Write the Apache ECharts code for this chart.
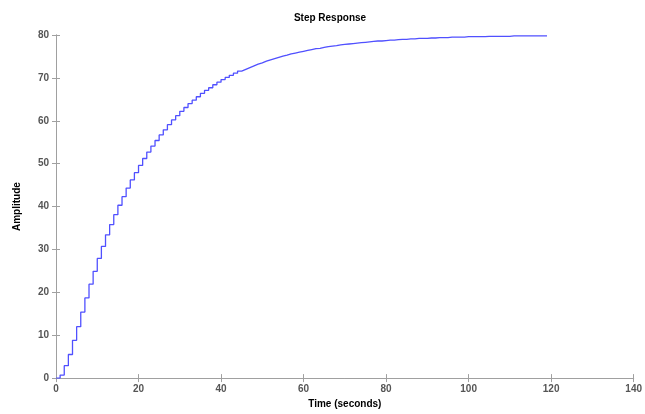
<!DOCTYPE html>
<html>
<head>
<meta charset="utf-8">
<script src="https://cdn.jsdelivr.net/npm/echarts@6/dist/echarts.min.js"></script>
<style>
  html, body { margin: 0; padding: 0; background: #fff; }
  #chart { width: 645px; height: 414px; }
</style>
</head>
<body>
<div id="chart"></div>
<script>
// sample time of the discrete step response (seconds)
const sampleTime = 1
const amplitude = [
  0, 0.7, 2.9, 5.5, 8.8, 12.0, 15.4, 18.7, 21.9, 24.9, 27.9, 30.7, 33.4,
  35.8, 38.1, 40.3, 42.3, 44.3, 46.2, 47.9, 49.6, 51.2, 52.7, 54.1, 55.4,
  56.7, 57.9, 59.1, 60.2, 61.2, 62.2, 63.1, 64.0, 64.8, 65.6, 66.4, 67.1,
  67.7, 68.4, 69.0, 69.6, 70.1, 70.6, 71.1, 71.6, 72.0, 72.4, 72.8, 73.2,
  73.5, 73.9, 74.2, 74.5, 74.8, 75.1, 75.3, 75.6, 75.8, 76.0, 76.2, 76.4,
  76.6, 76.8, 76.9, 77.1, 77.3, 77.4, 77.5, 77.7, 77.8, 77.9, 78.0, 78.1,
  78.2, 78.3, 78.4, 78.5, 78.6, 78.6, 78.7, 78.8, 78.8, 78.9, 79.0, 79.0,
  79.1, 79.1, 79.2, 79.2, 79.2, 79.3, 79.3, 79.4, 79.4, 79.4, 79.5, 79.5,
  79.5, 79.5, 79.6, 79.6, 79.6, 79.6, 79.6, 79.7, 79.7, 79.7, 79.7, 79.7,
  79.7, 79.8, 79.8, 79.8, 79.8, 79.8, 79.8, 79.8, 79.8, 79.8, 79.8
]
const xTicks = [0, 20, 40, 60, 80, 100, 120, 140]
const yTicks = [0, 10, 20, 30, 40, 50, 60, 70, 80]

const points = amplitude.map((v, i) => [i * sampleTime, v])

const chart = echarts.init(document.getElementById('chart'))

const axisGray = '#a0a0a0'
const labelStyle = {
  color: '#555',
  fontSize: 10,
  fontWeight: 'bold',
  fontFamily: 'Liberation Sans, Arial, sans-serif',
}
const boxAxis = {
  type: 'value',
  axisLine: { show: true, lineStyle: { color: axisGray, width: 1 } },
  axisTick: { show: true, inside: true, length: 4, lineStyle: { color: axisGray } },
  splitLine: { show: false },
}

let option = {
  animation: false,
  title: {
    text: 'Step Response',
    left: 325,
    top: 8,
    textAlign: 'center',
    textStyle: {
      fontSize: 10,
      fontWeight: 'bold',
      color: '#000',
      fontFamily: 'Liberation Sans, Arial, sans-serif',
    },
  },
  grid: { left: 56, right: 9, top: 35, bottom: 27, containLabel: false },
  xAxis: [
    {
      ...boxAxis,
      position: 'bottom',
      min: xTicks[0],
      max: xTicks[xTicks.length - 1],
      interval: 20,
      name: 'Time (seconds)',
      nameLocation: 'middle',
      nameGap: 20,
      nameTextStyle: { ...labelStyle, color: '#000', fontSize: 10 },
      axisLabel: { ...labelStyle, margin: 6 },
    },
    {
      ...boxAxis,
      position: 'top',
      min: xTicks[0],
      max: xTicks[xTicks.length - 1],
      interval: 20,
      axisLabel: { show: false },
    },
  ],
  yAxis: [
    {
      ...boxAxis,
      position: 'left',
      min: yTicks[0],
      max: yTicks[yTicks.length - 1],
      interval: 10,
      name: 'Amplitude',
      nameLocation: 'middle',
      nameGap: 34,
      nameRotate: 90,
      nameTextStyle: { ...labelStyle, color: '#000', fontSize: 10 },
      axisLabel: { ...labelStyle, margin: 7 },
    },
    {
      ...boxAxis,
      position: 'right',
      min: yTicks[0],
      max: yTicks[yTicks.length - 1],
      interval: 10,
      axisLabel: { show: false },
    },
  ],
  series: [
    {
      type: 'line',
      step: 'end',
      data: points,
      showSymbol: false,
      lineStyle: { color: '#5050ff', width: 1.3 },
    },
  ],
}
chart.setOption(option)
</script>
</body>
</html>
